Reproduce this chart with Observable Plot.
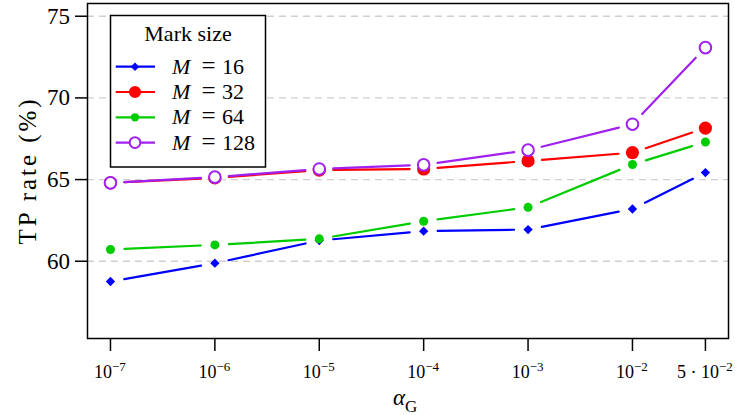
<!DOCTYPE html>
<html><head><meta charset="utf-8">
<script src="https://cdn.jsdelivr.net/npm/d3@7"></script>
<script src="https://cdn.jsdelivr.net/npm/@observablehq/plot@0.6"></script>
<style>
body{margin:0;background:#fff}
#chart{position:relative;width:735px;height:415px}
#overlay{position:absolute;left:0;top:0;pointer-events:none}
</style>
</head><body><div id="chart"></div>
<script>
// ---- data ----
const alphas = [1e-7, 1e-6, 1e-5, 1e-4, 1e-3, 1e-2, 5e-2];
const xTickLabels = ["10^−7", "10^−6", "10^−5", "10^−4", "10^−3", "10^−2", "5 · 10^−2"];
const yTicks = [60, 65, 70, 75];
const markSizes = [16, 32, 64, 128];
const m16  = [58.76, 59.88, 61.27, 61.84, 61.94, 63.20, 65.43];
const m32  = [64.80, 65.10, 65.58, 65.65, 66.14, 66.65, 68.15];
const m64  = [60.72, 61.00, 61.37, 62.45, 63.30, 65.92, 67.30];
const m128 = [64.80, 65.15, 65.65, 65.90, 66.80, 68.39, 73.08];
const legendTitle = "Mark size";
const xLabel = ["α", "G"];
const yLabel = "TP rate (%)";

// ---- styles ----
const FONT = "Liberation Serif";
const seriesValues = [m16, m32, m64, m128];
const styles = [
  {color: "#0000ff", symbol: "diamond2", r: 4.2, fill: true, sw: 0},
  {color: "#ff0000", symbol: "circle", r: 6.6, fill: true, sw: 0},
  {color: "#00cd00", symbol: "circle", r: 4.5, fill: true, sw: 0},
  {color: "#a020f0", symbol: "circle", r: 5.8, fill: false, sw: 2}
];

const marks = [
  Plot.ruleY(yTicks, {stroke: "#cfcfcf", strokeDasharray: "7,5", strokeWidth: 1.3}),
  Plot.axisY({ticks: yTicks, tickSize: 12, tickFormat: () => "", label: null, strokeWidth: 1.5}),
  Plot.axisX({ticks: alphas, tickSize: 13, tickFormat: () => "", label: null, strokeWidth: 1.5})
];
seriesValues.forEach((vals, k) => {
  const st = styles[k];
  const pts = alphas.map((a, i) => ({x: a, y: vals[i]}));
  const segs = pts.slice(1).map((p, i) => ({x1: pts[i].x, y1: pts[i].y, x2: p.x, y2: p.y}));
  marks.push(Plot.arrow(segs, {x1: "x1", y1: "y1", x2: "x2", y2: "y2", stroke: st.color, strokeWidth: 2.2,
                               headLength: 0, insetStart: 14, insetEnd: 14}));
  marks.push(Plot.dot(pts, {x: "x", y: "y", symbol: () => st.symbol, r: st.r,
                            fill: st.fill ? st.color : "white", stroke: st.fill ? "none" : st.color,
                            strokeWidth: st.sw}));
});
marks.push(Plot.frame({stroke: "black", strokeWidth: 1.5}));

const plot = Plot.plot({
  width: 735, height: 415,
  marginLeft: 87, marginRight: 7, marginTop: 3, marginBottom: 77,
  style: {background: "white", color: "black"},
  x: {type: "log", domain: [10 ** -7.22, 10 ** -1.08]},
  y: {domain: [55.27, 75.78]},
  marks
});
document.getElementById("chart").appendChild(plot);

// legend box and symbols inside the Plot svg
const psvg = d3.select(plot);
const lg = psvg.append("g");
lg.append("rect").attr("x", 110.5).attr("y", 15.5).attr("width", 155).attr("height", 151.5)
  .attr("fill", "white").attr("stroke", "black").attr("stroke-width", 1.5);
markSizes.forEach((m, k) => {
  const st = styles[k];
  const y = 66.7 + k * 25.3;
  lg.append("line").attr("x1", 115.7).attr("x2", 155).attr("y1", y).attr("y2", y)
    .attr("stroke", st.color).attr("stroke-width", 2.2);
  const sym = st.symbol === "diamond2" ? d3.symbolDiamond2 : d3.symbolCircle;
  lg.append("path").attr("transform", `translate(135,${y})`)
    .attr("d", d3.symbol(sym, Math.PI * st.r * st.r * 0.85)())
    .attr("fill", st.fill ? st.color : "white").attr("stroke", st.fill ? "none" : st.color)
    .attr("stroke-width", st.sw);
});

// all text in a serif overlay, positioned with Plot's own scales
const sx = plot.scale("x"), sy = plot.scale("y");
const ov = d3.select("#chart").append("svg").attr("id", "overlay").attr("width", 735).attr("height", 415);
yTicks.forEach(v => {
  ov.append("text").attr("x", 70).attr("y", sy.apply(v) + 8).attr("text-anchor", "end")
    .attr("font-family", FONT).attr("font-size", 23).text(String(v));
});
alphas.forEach((a, i) => {
  const [base, sup] = xTickLabels[i].split("^");
  const t = ov.append("text").attr("x", sx.apply(a)).attr("y", 378).attr("text-anchor", "middle")
    .attr("font-family", FONT).attr("font-size", 18);
  t.append("tspan").text(base);
  t.append("tspan").attr("dy", -7).attr("font-size", 13).text(sup);
});
ov.append("text").attr("transform", "translate(36,172) rotate(-90)").attr("text-anchor", "middle")
  .attr("font-family", FONT).attr("font-size", 25).attr("textLength", 145).attr("lengthAdjust", "spacing")
  .text(yLabel);
const xl = ov.append("text").attr("x", 393).attr("y", 405).attr("text-anchor", "start")
  .attr("font-family", FONT).attr("font-size", 23);
xl.append("tspan").attr("font-style", "italic").text(xLabel[0]);
xl.append("tspan").attr("dy", 7).attr("font-size", 17).text(xLabel[1]);
ov.append("text").attr("x", 188).attr("y", 41).attr("text-anchor", "middle")
  .attr("font-family", FONT).attr("font-size", 22).text(legendTitle);
markSizes.forEach((m, k) => {
  const y = 66.7 + k * 25.3;
  ov.append("text").attr("x", 172).attr("y", y + 7).attr("font-family", FONT)
    .attr("font-size", 22).attr("font-style", "italic").text("M");
  ov.append("text").attr("x", 208.5).attr("y", y + 7).attr("text-anchor", "middle").attr("font-family", FONT)
    .attr("font-size", 25).text("=");
  ov.append("text").attr("x", 222).attr("y", y + 7).attr("font-family", FONT)
    .attr("font-size", 22).text(String(m));
});
</script>
</body></html>
